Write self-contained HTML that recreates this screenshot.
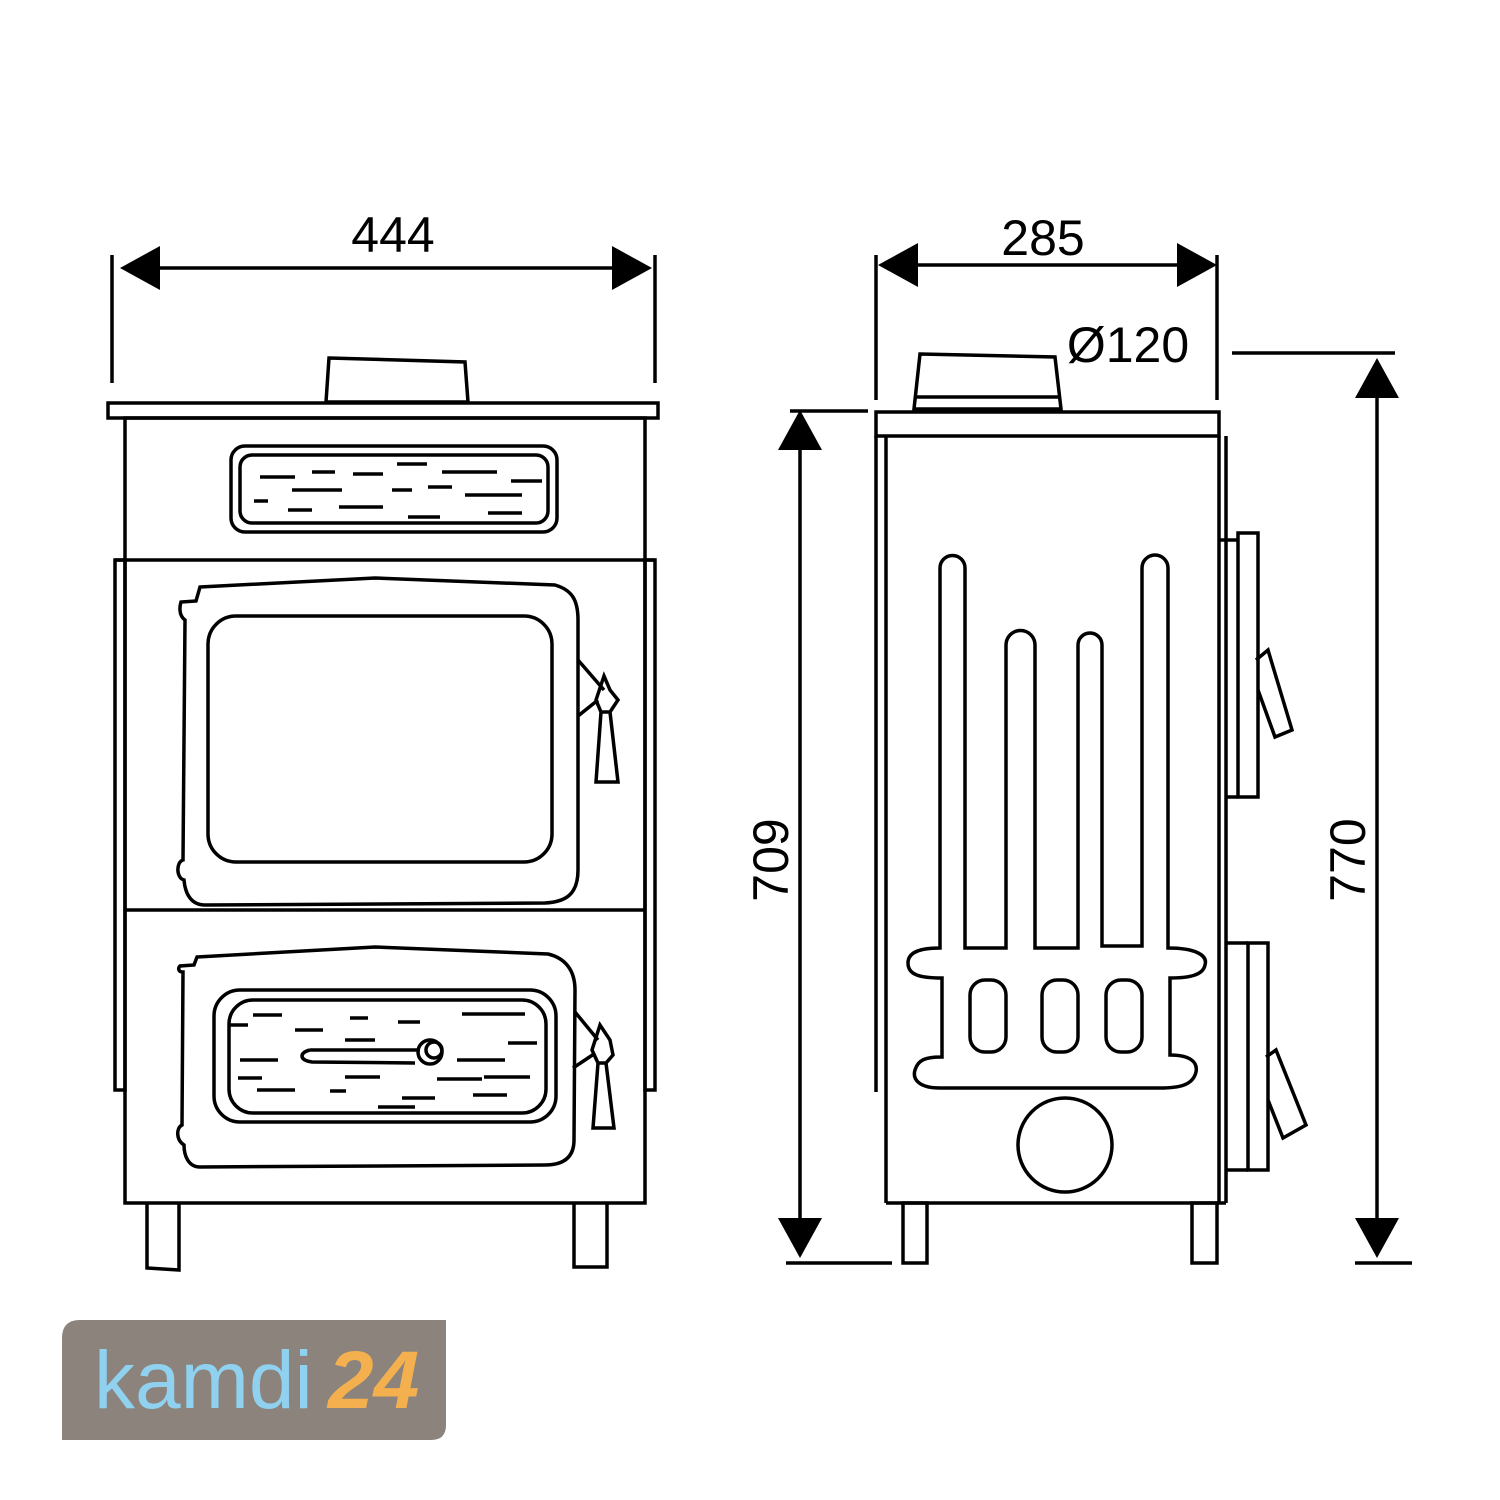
<!DOCTYPE html>
<html><head><meta charset="utf-8"><style>
html,body{margin:0;padding:0;background:#fff}
svg{display:block}
text{font-family:"Liberation Sans","DejaVu Sans",sans-serif}
</style></head><body>
<svg width="1500" height="1500" viewBox="0 0 1500 1500" xmlns="http://www.w3.org/2000/svg">
<g fill="none" stroke="#000" stroke-width="3.5">
<line x1="112" y1="255" x2="112" y2="383"/>
<line x1="655" y1="255" x2="655" y2="383"/>
<line x1="150" y1="268" x2="620" y2="268"/>
</g>
<polygon points="120,268 160,246 160,290" fill="#000"/>
<polygon points="652,268 612,246 612,290" fill="#000"/>
<text x="393" y="252" font-size="50" text-anchor="middle">444</text>

<g fill="none" stroke="#000" stroke-width="3.5">
<polygon points="329,358 465,362 468,402 326,402"/>
<rect x="108" y="403" width="550" height="15"/>
<rect x="125" y="418" width="520" height="785"/>
<rect x="115" y="560" width="10" height="530"/>
<rect x="645" y="560" width="10" height="530"/>
<line x1="115" y1="560" x2="655" y2="560"/>
<line x1="125" y1="910" x2="645" y2="910"/>
<rect x="231" y="446" width="326" height="86" rx="14"/>
<rect x="240" y="455" width="308" height="68" rx="12"/>
<path d="M200,587 L375,578 L555,585 C572,590 578,600 578,620 L578,870 C578,895 565,902 545,903 L205,905 C190,905 185,892 184,880 C176,878 176,862 183,860 L185,620 C178,615 180,605 181,602 L196,601 Z"/>
<rect x="208" y="616" width="344" height="246" rx="28"/>
<path d="M578,660 L604,690 M578,716 L598,700"/>
<path d="M604,676 L610,690 L618,700 L610,712 L601,712 L596,700 Z M601,712 L596,782 L618,782 L610,712"/>
<path d="M197,957 L375,947 L548,954 C565,958 575,970 575,990 L574,1140 C574,1160 560,1165 545,1165 L200,1167 C188,1167 184,1155 184,1145 C176,1140 176,1128 182,1125 L183,972 C178,972 178,968 180,966 L194,965 Z"/>
<rect x="214" y="990" width="342" height="132" rx="26"/>
<rect x="229" y="1000" width="317" height="113" rx="24"/>
<path d="M575,1012 L598,1040 M573,1068 L594,1054"/>
<path d="M600,1025 L610,1040 L613,1055 L606,1063 L598,1063 L592,1050 Z M598,1063 L593,1128 L614,1128 L606,1063"/>
<path d="M310,1050 C300,1052 298,1060 312,1062 L415,1063 M310,1050 L420,1050"/>
<circle cx="430" cy="1052" r="12"/>
<circle cx="434" cy="1050" r="8"/>
<polyline points="147,1203 147,1268 179,1270 179,1203"/>
<polyline points="574,1203 574,1267 607,1267 607,1203"/>
</g>
<g stroke="#000" stroke-width="3.5">
<path d="M260,477 H295 M312,472 H335 M353,474 H383 M397,464 H427 M442,472 H497 M511,481 H542 M292,490 H342 M392,490 H412 M428,487 H452 M465,495 H522 M254,501 H268 M288,510 H312 M339,507 H383 M408,517 H440 M488,513 H522"/>
<path d="M253,1015 H282 M229,1025 H248 M295,1030 H323 M350,1018 H368 M398,1022 H420 M462,1014 H525 M345,1040 H375 M508,1043 H537 M240,1060 H278 M457,1060 H505 M238,1078 H262 M345,1077 H380 M437,1079 H482 M484,1077 H530 M257,1090 H295 M330,1091 H346 M402,1098 H435 M473,1095 H507 M378,1107 H415"/>
</g>

<g fill="none" stroke="#000" stroke-width="3.5">
<line x1="876" y1="255" x2="876" y2="400"/>
<line x1="1217" y1="255" x2="1217" y2="400"/>
<line x1="910" y1="265" x2="1185" y2="265"/>
<polygon points="920,354 1055,357 1061,409 914,409"/>
<line x1="916" y1="397" x2="1059" y2="397"/>
<rect x="876" y="412" width="343" height="24"/>
<line x1="876" y1="436" x2="876" y2="1092"/>
<line x1="886" y1="436" x2="886" y2="1203"/>
<line x1="1226" y1="436" x2="1226" y2="1203"/>
<line x1="1219" y1="436" x2="1219" y2="1203"/>
<line x1="886" y1="1203" x2="1226" y2="1203"/>
<polyline points="1219,540 1238,540"/>
<rect x="1238" y="533" width="20" height="264"/>
<path d="M1256,660 L1268,650 L1292,730 L1275,737 L1258,690"/>
<polyline points="1226,797 1238,797"/>
<polyline points="1226,943 1248,943"/>
<rect x="1248" y="943" width="20" height="227"/>
<path d="M1266,1057 L1276,1050 L1306,1125 L1283,1138 L1268,1100"/>
<polyline points="1226,1170 1248,1170"/>
<path d="M940,948 V568 A12.5,12.5 0 0 1 965,568 V948 H1006 V645 A14.5,14.5 0 0 1 1035,645 V948 H1078 V645 A12,12 0 0 1 1102,645 V946 H1142 V568 A13,13 0 0 1 1168,568 V948 C1195,948 1208,955 1205,965 C1203,975 1190,978 1170,978 V1055 C1190,1055 1198,1062 1196,1072 C1193,1085 1180,1088 1160,1088 H940 C920,1088 912,1080 915,1070 C918,1060 925,1057 942,1057 V978 C920,978 908,975 908,963 C908,952 920,948 940,948 Z"/>
<rect x="970" y="980" width="36" height="72" rx="15"/>
<rect x="1042" y="980" width="36" height="72" rx="15"/>
<rect x="1106" y="980" width="36" height="72" rx="15"/>
<circle cx="1065" cy="1145" r="47"/>
<rect x="903" y="1203" width="24" height="60"/>
<rect x="1192" y="1203" width="25" height="60"/>
<line x1="790" y1="411" x2="868" y2="411"/>
<line x1="786" y1="1263" x2="892" y2="1263"/>
<line x1="800" y1="440" x2="800" y2="1230"/>
<line x1="1232" y1="353" x2="1395" y2="353"/>
<line x1="1355" y1="1263" x2="1412" y2="1263"/>
<line x1="1377" y1="390" x2="1377" y2="1230"/>
</g>
<polygon points="878,265 918,243 918,287" fill="#000"/>
<polygon points="1217,265 1177,243 1177,287" fill="#000"/>
<polygon points="800,410 778,450 822,450" fill="#000"/>
<polygon points="800,1258 778,1218 822,1218" fill="#000"/>
<polygon points="1377,358 1355,398 1399,398" fill="#000"/>
<polygon points="1377,1258 1355,1218 1399,1218" fill="#000"/>
<text x="1043" y="255" font-size="50" text-anchor="middle">285</text>
<text x="1128" y="362" font-size="50" text-anchor="middle">Ø120</text>
<text transform="translate(788,860) rotate(-90)" font-size="50" text-anchor="middle">709</text>
<text transform="translate(1365,860) rotate(-90)" font-size="50" text-anchor="middle">770</text>

<path d="M80,1320 H446 V1425 Q446,1440 431,1440 H62 V1338 Q62,1320 80,1320 Z" fill="#8b837c"/>
<text x="94" y="1408" font-size="82" fill="#8fd1ef">kamdi</text>
<text x="328" y="1408" font-size="82" font-weight="bold" font-style="italic" fill="#f4b04e">24</text>
</svg>
</body></html>
